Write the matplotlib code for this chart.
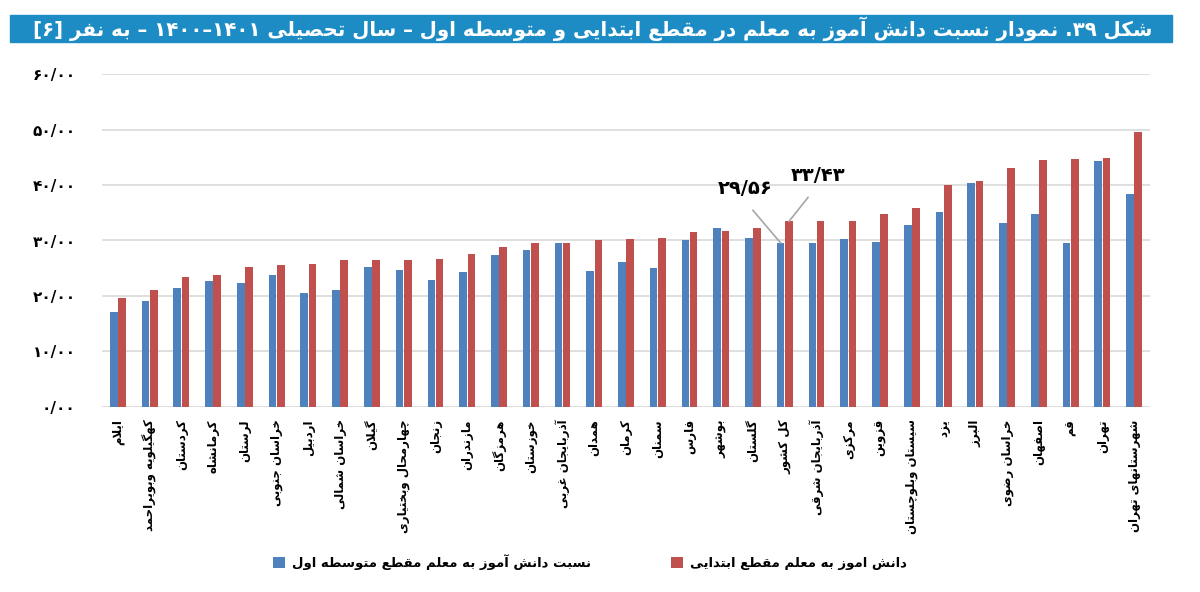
import matplotlib
matplotlib.use("Agg")
import matplotlib.pyplot as plt
from matplotlib.patches import Rectangle
import numpy as np

plt.rcParams["font.family"] = ["DejaVu Sans"]

# --- داده‌ها ---
provinces = [
    "ایلام", "کهگیلویه وبویراحمد", "کردستان", "کرمانشاه", "لرستان",
    "خراسان جنوبی", "اردبیل", "خراسان شمالی", "گیلان", "چهارمحال وبختیاری",
    "زنجان", "مازندران", "هرمزگان", "خوزستان", "آذربایجان غربی", "همدان",
    "کرمان", "سمنان", "فارس", "بوشهر", "گلستان", "کل کشور",
    "آذربایجان شرقی", "مرکزی", "قزوین", "سیستان وبلوچستان", "یزد", "البرز",
    "خراسان رضوی", "اصفهان", "قم", "تهران", "شهرستانهای تهران",
]
motavasete = [17.15, 19.0, 21.4, 22.6, 22.4, 23.8, 20.5, 21.1, 25.3, 24.7,
              22.8, 24.3, 27.3, 28.2, 29.5, 24.5, 26.2, 25.0, 30.0, 32.3,
              30.5, 29.56, 29.6, 30.3, 29.7, 32.8, 35.1, 40.3, 33.1, 34.7,
              29.5, 44.3, 38.4]
ebtedaei = [19.7, 21.1, 23.5, 23.8, 25.3, 25.6, 25.8, 26.4, 26.4, 26.5,
            26.7, 27.6, 28.8, 29.5, 29.5, 30.1, 30.2, 30.5, 31.5, 31.7,
            32.2, 33.43, 33.5, 33.6, 34.8, 35.9, 40.1, 40.8, 43.1, 44.5,
            44.7, 44.9, 49.6]
yticks = [0, 10, 20, 30, 40, 50, 60]

title = ("شکل ۳۹. نمودار نسبت دانش آموز به معلم در مقطع ابتدایی و متوسطه اول"
         " – سال تحصیلی ۱۴۰۱–۱۴۰۰ – به نفر [۶]")
label_blue = "نسبت دانش آموز به معلم مقطع متوسطه اول"
label_red = "دانش اموز به معلم مقطع ابتدایی"

# --- شکل‌دهی ساده حروف فارسی (matplotlib خودش اتصال و راست‌به‌چپ ندارد) ---
AR = {
    "آ": (0xFE81, 2), "ئ": (0xFE89, 4), "ا": (0xFE8D, 2), "ب": (0xFE8F, 4),
    "پ": (0xFB56, 4), "ت": (0xFE95, 4), "ث": (0xFE99, 4), "ج": (0xFE9D, 4),
    "چ": (0xFB7A, 4), "ح": (0xFEA1, 4), "خ": (0xFEA5, 4), "د": (0xFEA9, 2),
    "ذ": (0xFEAB, 2), "ر": (0xFEAD, 2), "ز": (0xFEAF, 2), "ژ": (0xFB8A, 2),
    "س": (0xFEB1, 4), "ش": (0xFEB5, 4), "ص": (0xFEB9, 4), "ض": (0xFEBD, 4),
    "ط": (0xFEC1, 4), "ظ": (0xFEC5, 4), "ع": (0xFEC9, 4), "غ": (0xFECD, 4),
    "ف": (0xFED1, 4), "ق": (0xFED5, 4), "ک": (0xFB8E, 4), "گ": (0xFB92, 4),
    "ل": (0xFEDD, 4), "م": (0xFEE1, 4), "ن": (0xFEE5, 4), "و": (0xFEED, 2),
    "ه": (0xFEE9, 4), "ی": (0xFBFC, 4), "لا": (0xFEFB, 2), "لآ": (0xFEF5, 2),
}
DIGITS = set("۰۱۲۳۴۵۶۷۸۹0123456789")
MIRROR = {"[": "]", "]": "[", "(": ")", ")": "("}


def shape(text):
    toks, i = [], 0
    while i < len(text):
        if text[i] == "ل" and text[i + 1:i + 2] in ("ا", "آ"):
            toks.append(text[i:i + 2])
            i += 2
        else:
            toks.append(text[i])
            i += 1
    out = []
    for k, t in enumerate(toks):
        if t not in AR:
            out.append(t)
            continue
        base, n = AR[t]
        prev = toks[k - 1] if k > 0 else None
        nxt = toks[k + 1] if k + 1 < len(toks) else None
        jp = prev in AR and AR[prev][1] == 4
        jn = n == 4 and nxt in AR
        off = 3 if (jp and jn) else 1 if jp else 2 if jn else 0
        out.append(chr(base + off))
    return out


def fa(text):
    g = shape(text)
    units = []
    for k, c in enumerate(g):
        is_num = c in DIGITS or (c in "/." and units and units[-1][0]
                                 and k + 1 < len(g) and g[k + 1] in DIGITS)
        if is_num and units and units[-1][0]:
            units[-1][1] += c
        elif is_num:
            units.append([True, c])
        else:
            units.append([False, MIRROR.get(c, c)])
    return "".join(u[1] for u in reversed(units))


def fa_num(v):
    s = f"{v:.2f}".replace(".", "/")
    return s.translate(str.maketrans("0123456789", "۰۱۲۳۴۵۶۷۸۹"))


# --- رسم ---
fig = plt.figure(figsize=(12, 5.92), dpi=100)
fig.patch.set_facecolor("white")

fig.patches.append(Rectangle((10 / 1200, 1 - 42 / 592), 1162 / 1200, 27 / 592,
                             transform=fig.transFigure, color="#1d8cc4",
                             zorder=0))
fig.text(1152 / 1200, 1 - 28.5 / 592, fa(title), color="white",
         fontsize=14.2, fontweight="bold", ha="right", va="center")

ax = fig.add_axes([102 / 1200, 1 - 406.7 / 592, 1048 / 1200, 332.4 / 592])
x = np.arange(len(provinces))
w = 0.24
blue = ax.bar(x - 0.13, motavasete, w, color="#4f81bd", zorder=3,
              label=fa(label_blue))
red = ax.bar(x + 0.13, ebtedaei, w, color="#c0504d", zorder=3,
             label=fa(label_red))

ax.set_xlim(-0.5, len(provinces) - 0.5)
ax.set_ylim(0, 60)
ax.set_yticks(yticks)
ax.set_yticklabels([fa_num(v) for v in yticks], fontweight="bold",
                   fontsize=11)
ax.set_xticks(x)
ax.set_xticklabels([fa(p) for p in provinces], rotation=90, fontsize=8.5,
                   fontweight="bold", va="top", ha="center")
ax.tick_params(axis="y", length=0, pad=19)
ax.tick_params(axis="x", length=0, pad=9)
ax.grid(axis="y", color="#d9d9d9", linewidth=1.2, zorder=0)
for s in ax.spines.values():
    s.set_visible(False)

# برچسب کل کشور
i_kol = provinces.index("کل کشور")
ax.annotate(fa_num(motavasete[i_kol]), xy=(i_kol - 0.13, motavasete[i_kol]),
            xytext=(19.75, 39.4), ha="center", va="center", fontsize=14,
            fontweight="bold",
            arrowprops=dict(arrowstyle="-", color="#a6a6a6", lw=1.2,
                            relpos=(0.45, 0), shrinkA=9, shrinkB=0))
ax.annotate(fa_num(ebtedaei[i_kol]), xy=(i_kol + 0.13, ebtedaei[i_kol]),
            xytext=(22.05, 41.8), ha="center", va="center", fontsize=14,
            fontweight="bold",
            arrowprops=dict(arrowstyle="-", color="#a6a6a6", lw=1.2,
                            relpos=(0.5, 0), shrinkA=9, shrinkB=0))

fig.legend(handles=[blue, red], loc="center", ncol=2, frameon=False,
           bbox_to_anchor=(590 / 1200, 1 - 562 / 592), handlelength=0.9,
           handleheight=0.9, columnspacing=6.0, handletextpad=0.6,
           prop=dict(size=9.5, weight="bold"))

fig.savefig("out.png", dpi=100)
